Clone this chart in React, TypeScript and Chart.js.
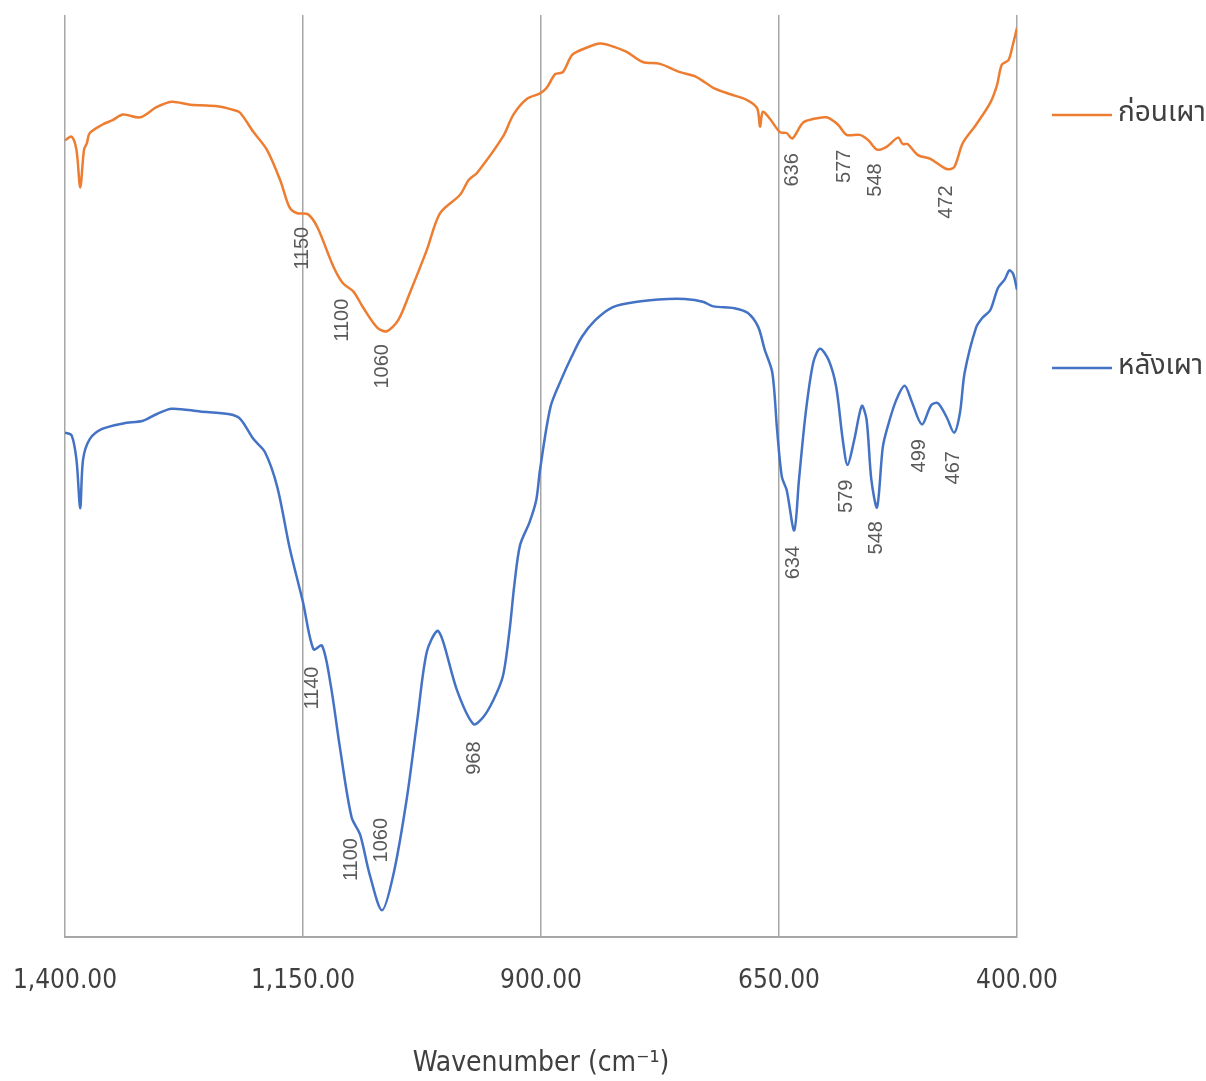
import React, { useEffect, useRef } from "react";
import { Chart, registerables } from "chart.js";

Chart.register(...registerables);

// ---- data ----
const xTickValues = [1400, 1150, 900, 650, 400];
const seriesNames = ["ก่อนเผา", "หลังเผา"];
const seriesColors = ["#ED7D31", "#4472C4"];

const beforeWn = [1400, 1393, 1388, 1384, 1380, 1377, 1374, 1361, 1350, 1339, 1321, 1304, 1288, 1270, 1258, 1240, 1223, 1216, 1202, 1188, 1174, 1164, 1156, 1145, 1135, 1118, 1108, 1097, 1087, 1072, 1062, 1050, 1038, 1020, 1006, 985, 976, 967, 940, 929, 915, 901, 894, 885, 877, 867, 851, 838, 828, 810, 793, 775, 754, 737, 719, 701, 684, 673, 670, 667, 660, 649, 642, 636, 625, 615, 600, 588, 579, 565, 556, 547, 537, 525, 520, 515, 504, 491, 474, 466, 457, 443, 428, 421, 416, 409, 405, 400];
const beforeT = [86.4, 86.8, 85.4, 81.3, 85.4, 86.1, 87.2, 88.1, 88.6, 89.2, 88.9, 90.0, 90.6, 90.3, 90.2, 90.1, 89.7, 89.4, 87.3, 85.4, 82.1, 79.1, 78.5, 78.4, 77.0, 72.7, 70.9, 70.0, 68.3, 66.1, 65.7, 66.9, 69.8, 74.5, 78.5, 80.5, 82.1, 82.9, 86.8, 89.2, 90.9, 91.5, 92.1, 93.6, 93.8, 95.7, 96.5, 96.9, 96.7, 96.0, 94.9, 94.7, 93.8, 93.3, 92.1, 91.4, 90.8, 89.9, 87.9, 89.5, 88.8, 87.3, 87.2, 86.6, 88.3, 88.7, 88.9, 88.1, 87.0, 87.0, 86.4, 85.4, 85.7, 86.7, 86.0, 86.0, 84.8, 84.4, 83.3, 83.5, 86.1, 88.1, 90.5, 92.4, 94.6, 95.1, 96.5, 98.6];

const afterWn = [1400, 1393, 1388, 1384, 1381, 1374, 1361, 1339, 1318, 1304, 1288, 1258, 1227, 1216, 1202, 1190, 1177, 1164, 1150, 1139, 1130, 1121, 1111, 1099, 1090, 1080, 1067, 1055, 1041, 1030, 1020, 1009, 1003, 988, 971, 961, 950, 940, 933, 928, 922, 912, 905, 901, 890, 879, 868, 857, 843, 825, 799, 767, 749, 730, 719, 697, 683, 672, 665, 657, 652, 647, 642, 634, 629, 622, 614, 607, 598, 590, 583, 578, 571, 563, 558, 553, 547, 541, 536, 527, 518, 511, 500, 490, 483, 474, 466, 460, 455, 443, 436, 428, 420, 413, 408, 404, 400];
const afterT = [54.7, 54.4, 51.8, 46.5, 51.8, 54.0, 55.1, 55.7, 56.0, 56.7, 57.3, 57.0, 56.7, 56.2, 54.0, 52.6, 48.8, 42.2, 36.3, 31.2, 31.6, 27.4, 20.4, 13.0, 11.1, 6.8, 2.9, 6.8, 15.0, 23.5, 30.9, 33.2, 32.1, 26.7, 23.1, 23.8, 25.7, 28.3, 33.3, 38.2, 42.5, 45.0, 47.4, 50.7, 57.5, 60.4, 62.9, 65.1, 66.9, 68.3, 68.9, 69.2, 69.2, 68.9, 68.4, 68.2, 67.7, 66.2, 63.7, 61.2, 55.0, 49.9, 48.5, 44.1, 49.6, 56.8, 62.3, 63.8, 62.6, 59.7, 53.9, 51.2, 53.9, 57.6, 56.1, 49.6, 46.6, 53.1, 55.3, 58.2, 59.8, 58.2, 55.6, 57.7, 57.9, 56.4, 54.7, 56.8, 61.2, 66.1, 67.2, 68.0, 70.4, 71.3, 72.3, 71.9, 70.2];

const beforePeakText = ["1150", "1100", "1060", "636", "577", "548", "472"];
const beforePeakWn = [1151, 1109, 1066, 636, 581, 549, 474];
const beforePeakY = [74.7, 66.9, 61.9, 83.2, 83.6, 82.1, 79.7];

const afterPeakText = ["1140", "1100", "1060", "968", "634", "579", "548", "499", "467"];
const afterPeakWn = [1140, 1099, 1068, 970, 635, 579, 548, 502, 467];
const afterPeakY = [27.0, 8.4, 10.5, 19.4, 40.6, 47.8, 43.3, 52.2, 50.9];

const THAI_FONT = "'Noto Sans Thai', 'Leelawadee UI', 'Tahoma', 'Noto Sans', 'DejaVu Sans', sans-serif";
const NUM_FONT = "'Liberation Sans Narrow', 'DejaVu Sans Condensed', 'Liberation Sans', sans-serif";

const toPoints = (xs: number[], ys: number[]) => xs.map((x, i) => ({ x, y: ys[i] }));

const peakLabelPlugin = {
  id: "peakLabels",
  afterDatasetsDraw(chart: any) {
    const { ctx, scales } = chart;
    const groups = [
      { t: beforePeakText, w: beforePeakWn, v: beforePeakY },
      { t: afterPeakText, w: afterPeakWn, v: afterPeakY },
    ];
    ctx.save();
    ctx.fillStyle = "#595959";
    ctx.font = "20px 'Liberation Sans', 'DejaVu Sans', sans-serif";
    ctx.textAlign = "center";
    ctx.textBaseline = "middle";
    for (const g of groups) {
      g.t.forEach((txt, i) => {
        const x = scales.x.getPixelForValue(g.w[i]);
        const y = scales.y.getPixelForValue(g.v[i]);
        ctx.save();
        ctx.translate(x, y);
        ctx.rotate(-Math.PI / 2);
        ctx.fillText(txt, 0, 0);
        ctx.restore();
      });
    }
    ctx.restore();
  },
};

const legendPlugin = {
  id: "sideLegend",
  afterDraw(chart: any) {
    const { ctx, chartArea } = chart;
    const ys = [115, 368];
    ctx.save();
    seriesNames.forEach((name, i) => {
      const x0 = chartArea.right + 35;
      ctx.strokeStyle = seriesColors[i];
      ctx.lineWidth = 2.5;
      ctx.beginPath();
      ctx.moveTo(x0, ys[i]);
      ctx.lineTo(x0 + 60, ys[i]);
      ctx.stroke();
      ctx.fillStyle = "#404040";
      ctx.font = "28px " + THAI_FONT;
      ctx.textAlign = "left";
      ctx.textBaseline = "middle";
      ctx.fillText(name, x0 + 66, ys[i]);
    });
    ctx.restore();
  },
};

export default function App() {
  const ref = useRef<HTMLCanvasElement | null>(null);

  useEffect(() => {
    if (!ref.current) return;
    const chart = new Chart(ref.current, {
      type: "line",
      data: {
        datasets: [
          {
            label: seriesNames[0],
            data: toPoints(beforeWn, beforeT),
            borderColor: seriesColors[0],
            backgroundColor: seriesColors[0],
            borderWidth: 2.5,
            pointRadius: 0,
            tension: 0.3,
          },
          {
            label: seriesNames[1],
            data: toPoints(afterWn, afterT),
            borderColor: seriesColors[1],
            backgroundColor: seriesColors[1],
            borderWidth: 2.5,
            pointRadius: 0,
            tension: 0.3,
          },
        ],
      },
      options: {
        animation: false,
        responsive: true,
        maintainAspectRatio: false,
        layout: { padding: { left: 65, right: 189, top: 15, bottom: 0 } },
        plugins: { legend: { display: false }, tooltip: { enabled: false } },
        scales: {
          x: {
            type: "linear",
            reverse: true,
            min: 400,
            max: 1400,
            afterBuildTicks: (axis: any) => {
              axis.ticks = xTickValues.map((v) => ({ value: v }));
            },
            afterFit: (axis: any) => {
              axis.paddingLeft = 0;
              axis.paddingRight = 0;
              axis.height = 144;
            },
            ticks: {
              padding: 29,
              maxRotation: 0,
              autoSkip: false,
              color: "#404040",
              font: { size: 26, family: NUM_FONT },
              callback: (v: any) =>
                Number(v).toLocaleString("en-US", { minimumFractionDigits: 2, maximumFractionDigits: 2 }),
            },
            grid: { color: "#a6a6a6", lineWidth: 1.5, drawTicks: false },
            border: { display: true, color: "#a6a6a6", width: 2 },
            title: {
              display: true,
              text: "Wavenumber (cm⁻¹)",
              color: "#404040",
              font: { size: 28, family: NUM_FONT },
              padding: { top: 0, bottom: 0 },
            },
          },
          y: { display: false, min: 0, max: 100 },
        },
      },
      plugins: [peakLabelPlugin, legendPlugin],
    });
    return () => chart.destroy();
  }, []);

  return (
    <div style={{ position: "fixed", left: 0, top: 0, width: 1206, height: 1081, background: "#fff" }}>
      <canvas ref={ref} />
    </div>
  );
}
